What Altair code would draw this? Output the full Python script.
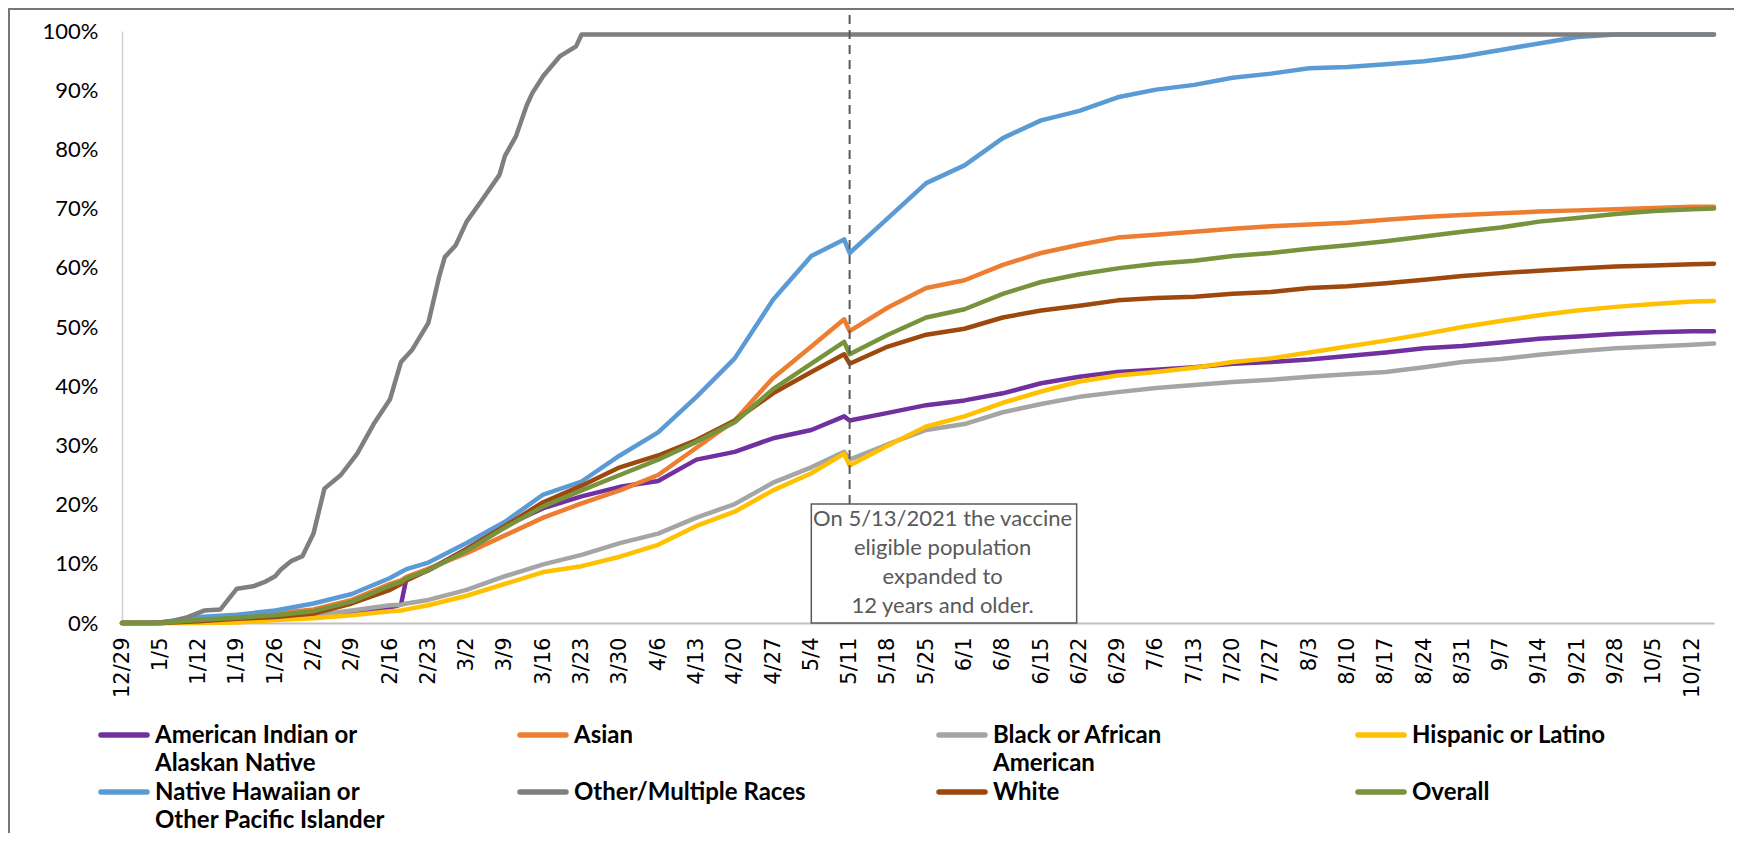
import altair as alt
import pandas as pd

# ---------------- data ----------------
series_names = [
    "American Indian or Alaskan Native",
    "Asian",
    "Black or African American",
    "Hispanic or Latino",
    "Native Hawaiian or Other Pacific Islander",
    "Other/Multiple Races",
    "White",
    "Overall",
]
legend_labels = [
    "American Indian or\nAlaskan Native",
    "Asian",
    "Black or African\nAmerican",
    "Hispanic or Latino",
    "Native Hawaiian or\nOther Pacific Islander",
    "Other/Multiple Races",
    "White",
    "Overall",
]
series_colors = ["#7030A0", "#ED7D31", "#A5A5A5", "#FFC000",
                 "#5B9BD5", "#7F7F7F", "#9E480E", "#77933C"]

dates = [
    "2020-12-29", "2021-01-05", "2021-01-12", "2021-01-19", "2021-01-26",
    "2021-02-02", "2021-02-09", "2021-02-16", "2021-02-18", "2021-02-19", "2021-02-23",
    "2021-03-02", "2021-03-09", "2021-03-16", "2021-03-23", "2021-03-30",
    "2021-04-06", "2021-04-13", "2021-04-20", "2021-04-27",
    "2021-05-04", "2021-05-10", "2021-05-11", "2021-05-18", "2021-05-25",
    "2021-06-01", "2021-06-08", "2021-06-15", "2021-06-22", "2021-06-29",
    "2021-07-06", "2021-07-13", "2021-07-20", "2021-07-27",
    "2021-08-03", "2021-08-10", "2021-08-17", "2021-08-24", "2021-08-31",
    "2021-09-07", "2021-09-14", "2021-09-21", "2021-09-28",
    "2021-10-05", "2021-10-12", "2021-10-16",
]

american_indian = [0, 0, 0.2, 0.4, 0.6, 1.0, 1.6, 2.6, 3.1, 7.6, 8.9,
                   12.5, 16.4, 19.4, 21.4, 23.0, 24.0, 27.6, 28.9, 31.2,
                   32.6, 34.9, 34.2, 35.5, 36.8, 37.6, 38.8, 40.5, 41.6, 42.4,
                   42.8, 43.2, 43.8, 44.1, 44.5, 45.1, 45.7, 46.4, 46.8,
                   47.4, 48.0, 48.4, 48.8, 49.1, 49.3, 49.3]
asian = [0, 0.1, 0.7, 1.1, 1.6, 2.3, 3.9, 6.6, 7.2, 7.8, 9.2,
         11.8, 14.8, 17.8, 20.2, 22.4, 25.0, 29.6, 34.2, 41.4,
         46.7, 51.3, 49.3, 53.3, 56.6, 57.9, 60.5, 62.5, 63.9, 65.1,
         65.6, 66.1, 66.6, 67.0, 67.3, 67.6, 68.1, 68.6, 68.9,
         69.2, 69.5, 69.7, 69.9, 70.1, 70.3, 70.3]
black = [0, 0, 0.2, 0.5, 0.8, 1.3, 2.1, 3.0, 3.1, 3.3, 3.9,
         5.6, 7.9, 9.9, 11.5, 13.5, 15.1, 17.8, 20.1, 23.7,
         26.3, 28.9, 27.6, 30.2, 32.6, 33.6, 35.6, 37.0, 38.2, 39.0,
         39.7, 40.2, 40.7, 41.1, 41.6, 42.0, 42.4, 43.2, 44.1,
         44.6, 45.3, 45.9, 46.4, 46.7, 47.0, 47.2]
hispanic = [0, 0, 0, 0.1, 0.5, 0.8, 1.3, 2.0, 2.1, 2.3, 3.0,
            4.6, 6.6, 8.6, 9.6, 11.2, 13.2, 16.4, 18.8, 22.4,
            25.3, 28.6, 26.6, 30.0, 33.2, 34.9, 37.2, 39.1, 40.8, 41.8,
            42.4, 43.1, 44.1, 44.7, 45.7, 46.7, 47.7, 48.8, 50.0,
            51.0, 52.0, 52.8, 53.4, 53.9, 54.3, 54.4]
native_hawaiian = [0, 0.1, 1.0, 1.4, 2.1, 3.3, 4.9, 7.6, 8.6, 9.1, 10.2,
                   13.5, 17.1, 21.7, 23.9, 28.3, 32.2, 38.2, 44.7, 54.6,
                   62.0, 64.8, 62.5, 68.4, 74.3, 77.3, 81.9, 84.9, 86.5, 88.8,
                   90.1, 90.9, 92.1, 92.8, 93.7, 93.9, 94.4, 94.9, 95.7,
                   96.8, 97.9, 99.0, 99.4, 99.4, 99.4, 99.4]
white = [0, 0, 0.3, 0.7, 1.0, 1.6, 3.3, 5.6, 6.6, 7.2, 8.9,
         12.5, 16.4, 20.4, 23.2, 26.3, 28.3, 30.9, 34.2, 38.8,
         42.4, 45.4, 43.8, 46.7, 48.7, 49.7, 51.6, 52.8, 53.6, 54.5,
         54.9, 55.1, 55.6, 55.9, 56.6, 56.9, 57.4, 58.0, 58.6,
         59.1, 59.5, 59.9, 60.2, 60.4, 60.6, 60.7]
overall = [0, 0, 0.5, 0.9, 1.3, 2.0, 3.6, 6.3, 6.9, 7.6, 8.9,
           12.2, 16.1, 19.7, 22.4, 25.0, 27.6, 30.6, 33.9, 39.5,
           43.8, 47.5, 45.4, 48.7, 51.6, 53.0, 55.6, 57.6, 58.9, 59.9,
           60.7, 61.2, 62.0, 62.5, 63.2, 63.8, 64.5, 65.3, 66.1,
           66.8, 67.8, 68.4, 69.1, 69.6, 69.9, 70.0]

other_dates = [
    "2020-12-29", "2021-01-04", "2021-01-07", "2021-01-10", "2021-01-13", "2021-01-16",
    "2021-01-19", "2021-01-22", "2021-01-24", "2021-01-26", "2021-01-27", "2021-01-29",
    "2021-01-31", "2021-02-02", "2021-02-04", "2021-02-07", "2021-02-10", "2021-02-13",
    "2021-02-16", "2021-02-18", "2021-02-20", "2021-02-23", "2021-02-25", "2021-02-26",
    "2021-02-28", "2021-03-02", "2021-03-05", "2021-03-08", "2021-03-09", "2021-03-11",
    "2021-03-13", "2021-03-14", "2021-03-16", "2021-03-19", "2021-03-22", "2021-03-23",
    "2021-10-16",
]
other_multiple = [0, 0, 0.3, 1.0, 2.1, 2.3, 5.8, 6.2, 6.9, 7.9, 9.0, 10.5,
                  11.3, 15.1, 22.7, 25.0, 28.6, 33.6, 37.8, 44.1, 46.1, 50.7,
                  58.6, 61.8, 63.8, 67.8, 71.7, 75.7, 78.9, 82.2, 87.5, 89.5,
                  92.4, 95.7, 97.4, 99.4, 99.4]

annotation_text = "On 5/13/2021 the vaccine\neligible population\nexpanded to\n12 years and older."
eligibility_date = "2021-05-11"

# ---------------- table ----------------
common_series = {
    "American Indian or Alaskan Native": american_indian,
    "Asian": asian,
    "Black or African American": black,
    "Hispanic or Latino": hispanic,
    "Native Hawaiian or Other Pacific Islander": native_hawaiian,
    "White": white,
    "Overall": overall,
}
rows = []
for name in series_names:
    if name == "Other/Multiple Races":
        for d, v in zip(other_dates, other_multiple):
            rows.append({"date": d, "value": v / 100, "series": name})
    else:
        for d, v in zip(dates, common_series[name]):
            rows.append({"date": d, "value": v / 100, "series": name})
df = pd.DataFrame(rows)

tick_dates = pd.date_range("2020-12-29", "2021-10-12", freq="7D")
tick_values = [alt.DateTime(year=d.year, month=d.month, date=d.day, utc=True) for d in tick_dates]

x_scale = alt.Scale(type="utc", nice=False, domain=[
    alt.DateTime(year=2020, month=12, date=29, utc=True),
    alt.DateTime(year=2021, month=10, date=16, utc=True)])
y_scale = alt.Scale(domain=[0, 1], nice=False)

color_enc = alt.Color("series:N", scale=alt.Scale(domain=series_names, range=series_colors), legend=None)

x_axis = alt.Axis(values=tick_values, labelExpr="utcFormat(datum.value, '%-m/%-d')",
                  labelAngle=270,
                  labelFont="DejaVu Sans", labelFontSize=21, labelColor="#000000",
                  labelPadding=14, ticks=False, grid=False, title=None,
                  domainColor="#BFBFBF", domainWidth=2, labelOverlap=False,
                  labelFlush=False, labelBound=False)
y_axis = alt.Axis(values=[i / 10 for i in range(11)], format=".0%", labelFont="Lato",
                  labelFontSize=22, labelColor="#000000", labelPadding=24, ticks=False,
                  grid=False, title=None, domainColor="#D0D0D0", domainWidth=1.5)

lines = alt.Chart(df).mark_line(strokeWidth=4.5, strokeCap="round", strokeJoin="round").encode(
    x=alt.X("date:T", scale=x_scale, axis=x_axis),
    y=alt.Y("value:Q", scale=y_scale, axis=y_axis),
    color=color_enc,
)

box_df = pd.DataFrame({"date": ["2021-05-04"], "x2": ["2021-06-21T12:00:00Z"],
                       "value": [0.0], "y2": [0.201]})
box = alt.Chart(box_df).mark_rect(fill="white", stroke="#595959", strokeWidth=1.5).encode(
    x=alt.X("date:T", scale=x_scale, axis=x_axis), x2="x2:T",
    y=alt.Y("value:Q", scale=y_scale, axis=y_axis), y2="y2:Q",
)

rule_df = pd.DataFrame({"date": [eligibility_date], "value": [0.201], "y2": [1.044]})
rule = alt.Chart(rule_df).mark_rule(color="#595959", strokeWidth=2, strokeDash=[9, 6]).encode(
    x=alt.X("date:T", scale=x_scale, axis=x_axis),
    y=alt.Y("value:Q", scale=y_scale, axis=y_axis), y2="y2:Q",
)

text_df = pd.DataFrame({"date": ["2021-05-28"], "value": [0.201], "text": [annotation_text]})
ann_text = alt.Chart(text_df).mark_text(
    align="center", baseline="top", dy=5, font="Lato", fontSize=22, lineHeight=29,
    lineBreak="\n", color="#595959",
).encode(
    x=alt.X("date:T", scale=x_scale, axis=x_axis),
    y=alt.Y("value:Q", scale=y_scale, axis=y_axis),
    text="text:N",
)

# legend: 4 columns x 2 rows below the plot
legend_layers = []
for i, (name, label) in enumerate(zip(series_names, legend_labels)):
    col, row = i % 4, i // 4
    cx = 2 + col * 419
    cy = 704 + row * 57
    one = pd.DataFrame({"series": [name], "label": [label]})
    sym = alt.Chart(one).mark_rule(strokeWidth=5.5, strokeCap="round").encode(
        x=alt.value(cx - 23), x2=alt.value(cx + 23), y=alt.value(cy), color=color_enc)
    txt = alt.Chart(one).mark_text(
        align="left", baseline="alphabetic", font="Lato", fontWeight="bold",
        fontSize=24, lineHeight=28, lineBreak="\n", color="#000000",
    ).encode(x=alt.value(cx + 31), y=alt.value(cy + 8), text="label:N")
    legend_layers += [sym, txt]

frame = alt.Chart(pd.DataFrame({"k": [0]})).mark_rect(
    fillOpacity=0, stroke="#767676", strokeWidth=2
).encode(x=alt.value(-113), x2=alt.value(1614), y=alt.value(-22), y2=alt.value(900))

chart = alt.layer(lines, rule, box, ann_text, *legend_layers, frame).properties(
    width=1592, height=592,
    autosize=alt.AutoSizeParams(type="none"),
    padding={"left": 114, "top": 23, "right": 20, "bottom": 210},
    background="white",
).configure_view(stroke=None)

chart.save("out.html", embed_options={"renderer": "svg", "actions": False})
